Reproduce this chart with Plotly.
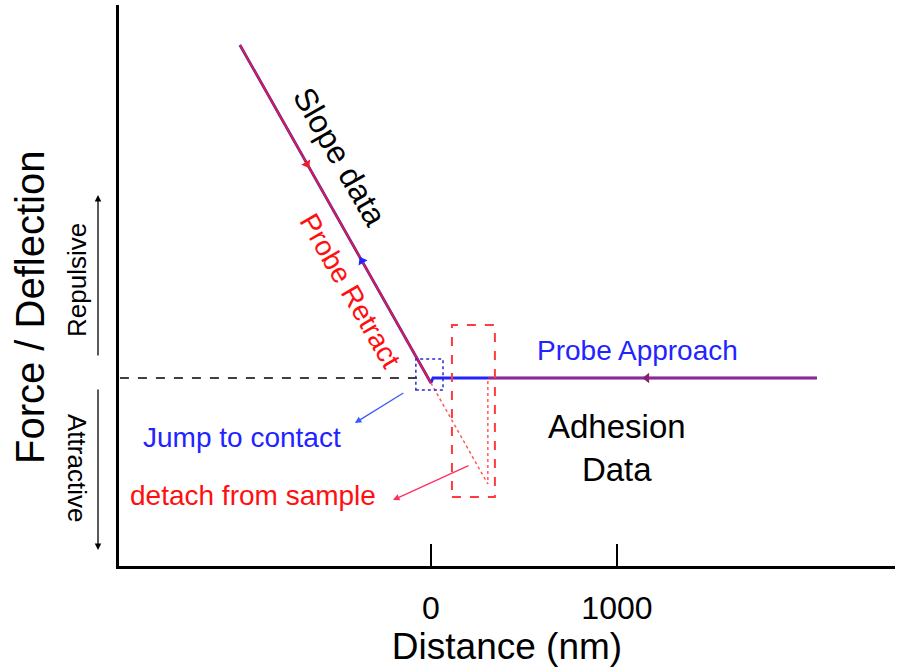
import plotly.graph_objects as go

# ---- data (distance in nm, deflection in arbitrary units) ----
approach_x = [2075, 306, 11, 0, -1027]
approach_y = [0, 0, 0, -5, 333]

retract_contact_x = [-1027, 0]
retract_contact_y = [333, -5]
retract_adhesion_x = [0, 306, 306]
retract_adhesion_y = [-5, -106, 0]
retract_free_x = [306, 2075]
retract_free_y = [0, 0]

tick_vals = [0, 1000]
tick_text = ["0", "1000"]

RED = "#ee1c25"
BLUE = "#2323ff"
FONT = "Liberation Sans, Arial, sans-serif"

fig = go.Figure()

fig.add_trace(go.Scatter(x=approach_x, y=approach_y, mode="lines",
                         line=dict(color=BLUE, width=2.8), hoverinfo="skip"))
fig.add_trace(go.Scatter(x=retract_contact_x, y=retract_contact_y, mode="lines",
                         line=dict(color=RED, width=1.8), hoverinfo="skip"))
fig.add_trace(go.Scatter(x=retract_adhesion_x, y=retract_adhesion_y, mode="lines",
                         line=dict(color="#ff5a5a", width=1.5, dash="dot"), hoverinfo="skip"))
fig.add_trace(go.Scatter(x=retract_free_x, y=retract_free_y, mode="lines",
                         line=dict(color=RED, width=1.6), hoverinfo="skip"))

# direction markers
fig.add_trace(go.Scatter(x=[-667], y=[214], mode="markers",
                         marker=dict(symbol="triangle-down", size=9, angle=-30, color=RED),
                         hoverinfo="skip"))
fig.add_trace(go.Scatter(x=[-371], y=[117], mode="markers",
                         marker=dict(symbol="triangle-up", size=9, angle=-30, color=BLUE),
                         hoverinfo="skip"))
fig.add_trace(go.Scatter(x=[1161], y=[0], mode="markers",
                         marker=dict(symbol="triangle-left", size=9, color="#8a1f6a"),
                         hoverinfo="skip"))

shapes = [
    dict(type="line", x0=-1672, x1=-59, y0=0, y1=0,
         line=dict(color="black", width=1.5, dash="dash")),
    dict(type="rect", x0=-81, x1=65, y0=-12, y1=19,
         line=dict(color="#2a2ad0", width=1.5, dash="dot")),
    dict(type="rect", x0=113, x1=344, y0=-119, y1=53,
         line=dict(color="#ff3b3b", width=2, dash="dash")),
]

ann = []
def text(x, y, t, size, color, angle=0, xref="x"):
    ann.append(dict(x=x, y=y, xref=xref, yref="y", text=t, showarrow=False,
                    xanchor="center", yanchor="middle",
                    textangle=angle, font=dict(family=FONT, size=size, color=color)))

text(-489, 221, "Slope data", 32, "black", 60)
text(-430, 87, "Probe Retract", 28, "#ff1010", 60)
text(1113, 28, "Probe Approach", 28, BLUE)
text(1000, -70, "Adhesion<br>Data", 33, "black")
text(-1016, -59, "Jump to contact", 28, BLUE)
text(-957, -117, "detach from sample", 28, "#ff1010")
text((77 - 119) / 776, 98, "Repulsive", 26, "black", -90, xref="paper")
text((77 - 119) / 776, -90, "Attractive", 26, "black", 90, xref="paper")
text((30 - 119) / 776, 70, "Force / Deflection", 40, "black", -90, xref="paper")

# pointer arrows
ann.append(dict(x=-409, y=-45, xref="x", yref="y", ax=50, ay=-31, showarrow=True,
                arrowhead=2, arrowsize=1, arrowwidth=1.3, arrowcolor="#3a5aff", text=""))
ann.append(dict(x=-204, y=-122, xref="x", yref="y", ax=77, ay=-35, showarrow=True,
                arrowhead=2, arrowsize=1, arrowwidth=1.3, arrowcolor="#ff3060", text=""))
# repulsive / attractive arrows
px = (98 - 119) / 776
ann.append(dict(x=px, y=183, xref="paper", yref="y", ax=0, ay=162, showarrow=True,
                arrowhead=2, arrowsize=1, arrowwidth=1.3, arrowcolor="black", text=""))
ann.append(dict(x=px, y=-172, xref="paper", yref="y", ax=0, ay=-162, showarrow=True,
                arrowhead=2, arrowsize=1, arrowwidth=1.3, arrowcolor="black", text=""))

fig.update_layout(
    width=909, height=668,
    margin=dict(l=119, r=14, t=5, b=102),
    plot_bgcolor="white", paper_bgcolor="white",
    showlegend=False,
    shapes=shapes, annotations=ann,
    font=dict(family=FONT, color="black"),
    xaxis=dict(range=[-1677, 2495], showgrid=False, zeroline=False,
               showline=True, linecolor="black", linewidth=3,
               tickmode="array", tickvals=tick_vals, ticktext=tick_text,
               ticks="inside", ticklen=22, tickwidth=2, tickcolor="black",
               ticklabelstandoff=12,
               tickfont=dict(size=32, family=FONT, color="black"),
               title=dict(text="Distance (nm)", font=dict(size=37, family=FONT, color="black"),
                          standoff=2)),
    yaxis=dict(range=[-188, 373], showgrid=False, zeroline=False,
               showline=True, linecolor="black", linewidth=3,
               showticklabels=False, ticks=""),
)

fig.write_html("out.html")
